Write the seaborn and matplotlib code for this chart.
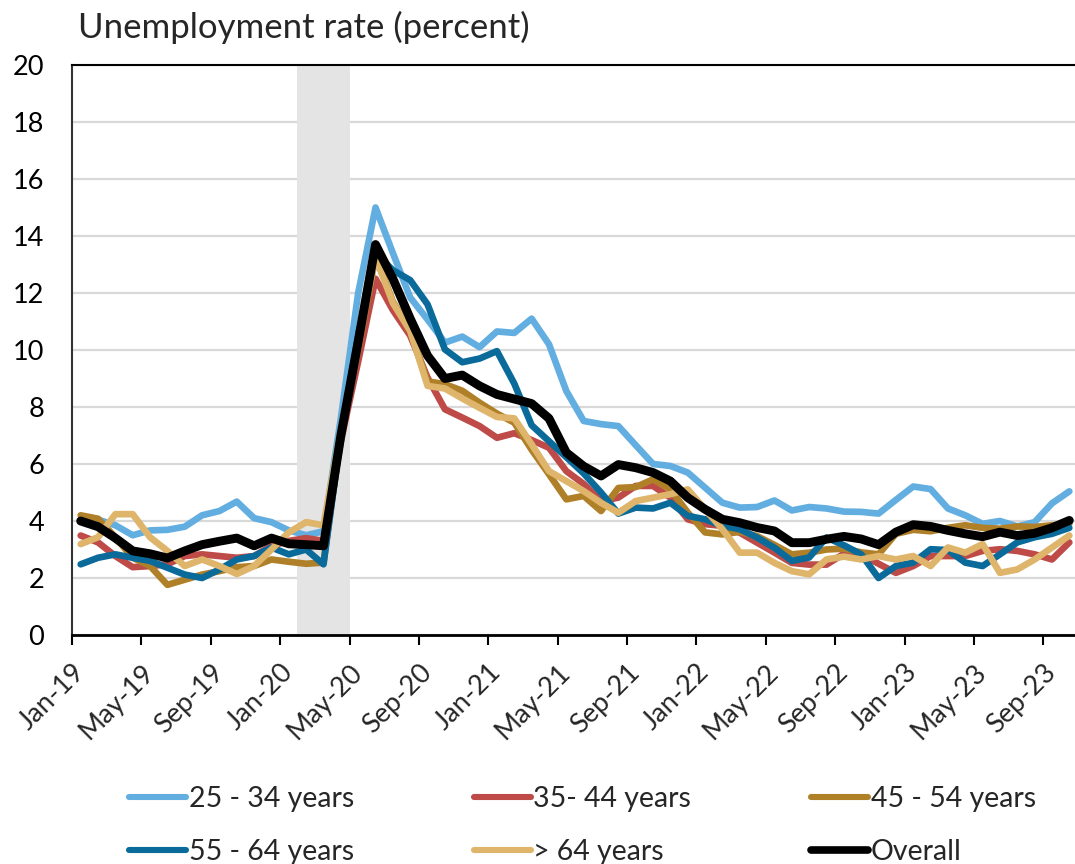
import numpy as np
import pandas as pd
import matplotlib
matplotlib.use("Agg")
import matplotlib.pyplot as plt
import seaborn as sns
from matplotlib.lines import Line2D

# monthly categories, Jan-19 .. Oct-23
months = pd.date_range("2019-01-01", "2023-10-01", freq="MS")
tick_labels = ["Jan-19", "May-19", "Sep-19", "Jan-20", "May-20", "Sep-20", "Jan-21", "May-21",
               "Sep-21", "Jan-22", "May-22", "Sep-22", "Jan-23", "May-23", "Sep-23"]

age_25_34 = [4.0, 4.05, 3.85, 3.5, 3.67, 3.69, 3.8, 4.2, 4.35, 4.68, 4.1, 3.96, 3.67, 3.5, 3.64,
             7.6, 12.0, 15.0, 13.4, 11.84, 11.07, 10.26, 10.47, 10.1, 10.65, 10.6, 11.1, 10.2, 8.56,
             7.51, 7.4, 7.33, 6.66, 6.0, 5.93, 5.7, 5.17, 4.64, 4.47, 4.49, 4.72, 4.37, 4.49, 4.44,
             4.33, 4.32, 4.26, 4.74, 5.21, 5.12, 4.44, 4.2, 3.9, 4.0, 3.81, 3.96, 4.62, 5.04]
age_35_44 = [3.49, 3.25, 2.77, 2.38, 2.42, 2.48, 2.77, 2.83, 2.77, 2.71, 2.77, 3.13, 3.3, 3.4, 3.3,
             6.8, 9.6, 12.5, 11.4, 10.5, 9.03, 7.92, 7.63, 7.33, 6.92, 7.08, 6.84, 6.57, 5.75,
             5.3, 4.7, 4.82, 5.23, 5.23, 4.82, 4.06, 3.89, 3.83, 3.59, 3.24, 2.89, 2.53, 2.47, 2.47,
             2.85, 2.83, 2.5, 2.18, 2.42, 2.77, 2.77, 2.77, 2.95, 3.01, 2.95, 2.83, 2.65, 3.25]
age_45_54 = [4.2, 4.08, 3.43, 2.71, 2.42, 1.76, 1.94, 2.12, 2.24, 2.38, 2.42, 2.65, 2.57, 2.5, 2.54,
             7.0, 10.0, 13.3, 11.7, 10.67, 8.9, 8.8, 8.57, 8.15, 7.77, 7.45, 6.5, 5.64, 4.76,
             4.88, 4.35, 5.16, 5.19, 5.46, 5.11, 4.3, 3.6, 3.53, 3.62, 3.47, 3.16, 2.83, 2.89, 3.0,
             3.03, 2.9, 2.83, 3.55, 3.69, 3.64, 3.76, 3.85, 3.76, 3.73, 3.81, 3.79, 3.85, 3.9]
age_55_64 = [2.48, 2.71, 2.83, 2.71, 2.6, 2.36, 2.12, 2.0, 2.3, 2.65, 2.77, 3.07, 2.83, 3.0, 2.48,
             7.0, 10.5, 13.4, 12.8, 12.45, 11.6, 10.02, 9.57, 9.7, 9.96, 8.82, 7.36, 6.8, 6.24,
             5.67, 5.0, 4.26, 4.47, 4.44, 4.64, 4.18, 4.06, 3.83, 3.71, 3.42, 3.06, 2.6, 2.72, 3.42,
             3.15, 2.83, 2.0, 2.42, 2.54, 3.01, 2.98, 2.54, 2.42, 2.83, 3.25, 3.43, 3.55, 3.76]
age_65_up = [3.19, 3.43, 4.24, 4.24, 3.43, 2.95, 2.42, 2.65, 2.42, 2.14, 2.42, 3.0, 3.6, 3.96, 3.85,
             7.2, 10.3, 13.25, 11.65, 10.67, 8.74, 8.65, 8.3, 7.97, 7.65, 7.6, 6.69, 5.75, 5.4,
             5.05, 4.64, 4.29, 4.7, 4.82, 4.94, 5.11, 4.41, 3.71, 2.89, 2.89, 2.53, 2.24, 2.13, 2.65,
             2.75, 2.65, 2.77, 2.65, 2.77, 2.42, 3.07, 2.89, 3.19, 2.18, 2.3, 2.65, 3.07, 3.49]
overall = [4.0, 3.8, 3.4, 2.95, 2.85, 2.7, 2.95, 3.17, 3.29, 3.4, 3.13, 3.4, 3.2, 3.17, 3.13,
           7.0, 10.3, 13.7, 12.5, 11.1, 9.8, 9.0, 9.12, 8.74, 8.44, 8.28, 8.12, 7.6, 6.4,
           5.92, 5.58, 5.98, 5.87, 5.7, 5.4, 4.82, 4.41, 4.06, 3.94, 3.77, 3.65, 3.24, 3.24, 3.36,
           3.46, 3.37, 3.17, 3.61, 3.87, 3.81, 3.67, 3.55, 3.45, 3.61, 3.49, 3.57, 3.76, 4.02]

groups = ["25 - 34 years", "35- 44 years", "45 - 54 years", "55 - 64 years", "> 64 years", "Overall"]
colors = ["#63AEE0", "#BE4B48", "#B08029", "#0A6A9A", "#DEB56B", "#000000"]
series = [age_25_34, age_35_44, age_45_54, age_55_64, age_65_up, overall]

df = pd.concat([pd.DataFrame({"m": np.arange(len(months)), "rate": s, "group": g})
                for g, s in zip(groups, series)], ignore_index=True)

sns.set_theme(style="white")
plt.rcParams["font.family"] = ["Lato", "DejaVu Sans"]

fig = plt.figure(figsize=(10.75, 8.64), dpi=100)
ax = fig.add_axes([72 / 1075, 1 - 635 / 864, 1006 / 1075, 570 / 864])

# recession shading Feb-20..Apr-20
ax.axvspan(12.5, 15.5, color="#E4E4E4", lw=0, zorder=1)

sns.lineplot(data=df, x="m", y="rate", hue="group", hue_order=groups,
             palette=dict(zip(groups, colors)), linewidth=4.8, legend=False, ax=ax, zorder=3)
for ln in ax.lines:
    ln.set_solid_joinstyle("round")
ax.lines[-1].set_linewidth(6.4)

ax.set_xlim(-0.5, len(months) - 0.5)
ax.set_ylim(0, 20)
ax.set_yticks(range(0, 21, 2))
ax.yaxis.grid(True, color="#D9D9D9", linewidth=1.6)
ax.set_axisbelow(True)
ax.tick_params(axis="y", length=0, pad=20, labelsize=19.5, labelcolor="black")

ax.set_xticks(np.arange(0, len(months), 4))
ax.set_xticklabels(tick_labels, rotation=45, ha="right", va="center",
                   rotation_mode="anchor", fontsize=19.5)
ax.set_xticks(np.arange(-0.5, len(months), 4), minor=True)
ax.tick_params(axis="x", which="major", length=0, pad=24)
ax.tick_params(axis="x", which="minor", length=7, width=1.5, color="black", direction="out", bottom=True)
ax.set_xlabel("")
ax.set_ylabel("")

ax.spines["right"].set_visible(False)
ax.spines["top"].set_color("black")
ax.spines["top"].set_linewidth(1.5)
ax.spines["left"].set_color("#333333")
ax.spines["left"].set_linewidth(1.5)
ax.spines["bottom"].set_color("black")
ax.spines["bottom"].set_linewidth(2)

fig.text(78 / 1075, 1 - 27 / 864, "Unemployment rate (percent)", fontsize=25, va="center", ha="left")

order = [0, 3, 1, 4, 2, 5]
handles = [Line2D([], [], color=colors[i], linewidth=5.5 if i == 5 else 4.4, solid_capstyle="round")
           for i in order]
fig.legend(handles, [groups[i] for i in order], ncol=3, loc="upper left",
           bbox_to_anchor=(129 / 1075, 1 - 786 / 864), frameon=False, fontsize=20.5,
           handlelength=2.0, handletextpad=0.1, columnspacing=4.2, labelspacing=0.96,
           borderpad=0, borderaxespad=0)

fig.savefig("out.png", dpi=100)
